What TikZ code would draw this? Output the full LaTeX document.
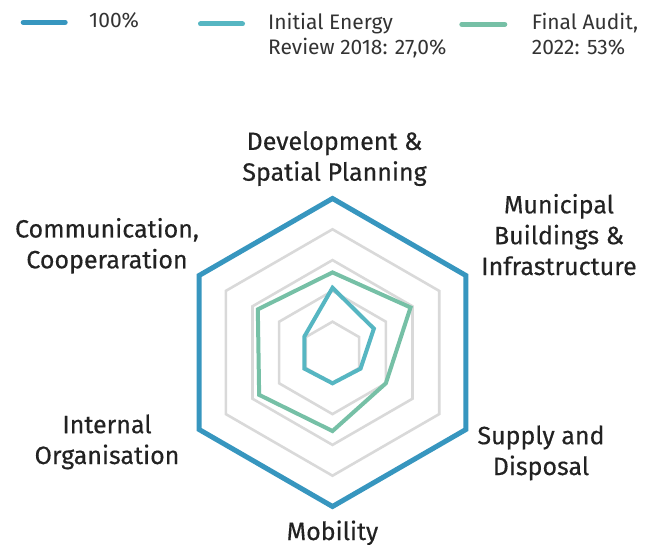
\documentclass[tikz,border=0pt]{standalone}
\usepackage{fontspec}
\setmainfont{Fira Sans}
\newfontfamily\labelfont[FakeBold=0.4]{Fira Sans}
\definecolor{cfull}{HTML}{3796BF}
\definecolor{cinit}{HTML}{56B6C2}
\definecolor{cfinal}{HTML}{76C0A6}
\definecolor{cgrid}{HTML}{D9D9D9}
\definecolor{ctext}{HTML}{222222}
\definecolor{clegend}{HTML}{333333}
\tikzset{
  lab/.style={font={\labelfont\fontsize{25}{30.8}\selectfont}, align=center, inner sep=0pt, text=ctext, anchor=base},
  legtext/.style={font={\fontsize{21}{25.7}\selectfont}, align=left, inner sep=0pt, text=clegend, anchor=base west},
  gridline/.style={draw=cgrid, line width=2.6pt, line join=miter},
  fullline/.style={draw=cfull, line width=5pt, line join=miter},
  initline/.style={draw=cinit, line width=4pt, line join=miter},
  finalline/.style={draw=cfinal, line width=4pt, line join=miter},
  legline/.style={line width=5pt, line cap=round},
}
\begin{document}
\begin{tikzpicture}[x=1pt,y=-1pt]
\useasboundingbox (0,0) rectangle (650,545);
\coordinate (O) at (332.5,352.5);
% grid
\begin{scope}[shift={(O)}]
\foreach \f in {0.2,0.4,0.6,0.8}{
  \draw[gridline] (-90:\f*154) -- (-30:\f*154) -- (30:\f*154) -- (90:\f*154) -- (150:\f*154) -- (210:\f*154) -- cycle;
}
\draw[finalline] (-90:0.52*154) -- (-30:0.585*154) -- (30:0.40*154) -- (90:0.51*154) -- (150:0.55*154) -- (210:0.56*154) -- cycle;
\draw[initline] (-90:0.42*154) -- (-30:0.31*154) -- (30:0.21*154) -- (90:0.20*154) -- (150:0.21*154) -- (210:0.21*154) -- cycle;
\draw[fullline] (-90:154) -- (-30:154) -- (30:154) -- (90:154) -- (150:154) -- (210:154) -- cycle;
\end{scope}
% labels (anchor at baseline of the last line)
\node[lab] (dev) at (334.5,180.7) {Development \&\\Spatial Planning};
\node[lab] (mun) at (559,275) {Municipal\\Buildings \&\\Infrastructure};
\node[lab] (com) at (107,268.3) {Communication,\\Cooperaration};
\node[lab] (int) at (107,464) {Internal\\Organisation};
\node[lab] (sup) at (541,475) {Supply and\\Disposal};
\node[lab] (mob) at (332.5,540) {Mobility};
% legend
\coordinate (l1a) at (23.2,22.3);
\coordinate (l1b) at (65.2,22.3);
\coordinate (l2a) at (200.5,24);
\coordinate (l2b) at (242.5,24);
\coordinate (l3a) at (461.8,24.3);
\coordinate (l3b) at (504.8,24.3);
\draw[legline, cfull] (l1a) -- (l1b);
\draw[legline, cinit] (l2a) -- (l2b);
\draw[legline, cfinal] (l3a) -- (l3b);
\node[legtext] (t1) at (89,27.3) {100\%};
\node[legtext] (t2) at (268,55) {Initial Energy\\Review 2018: 27,0\%};
\node[legtext] (t3) at (531.7,55) {Final Audit,\\2022: 53\%};
\end{tikzpicture}
\end{document}
